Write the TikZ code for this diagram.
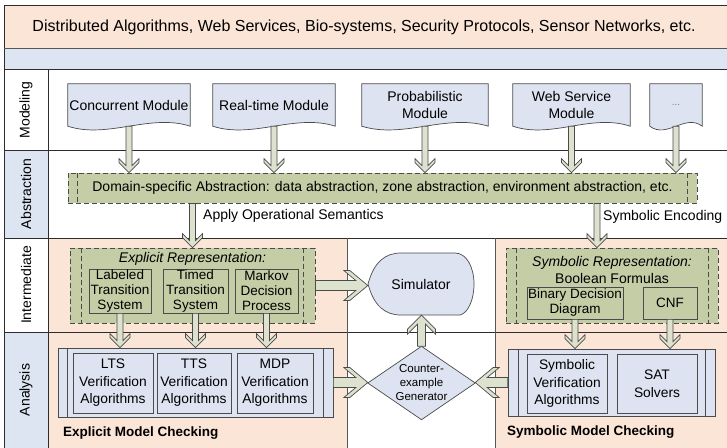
\documentclass[tikz,border=0pt]{standalone}
\usepackage{fontspec}
\setmainfont{Liberation Sans}
\usetikzlibrary{calc}
\pgfdeclarelayer{back}
\pgfdeclarelayer{bg}
\pgfsetlayers{back,bg,main}
\definecolor{peach}{RGB}{251,229,214}
\definecolor{lblue}{RGB}{220,229,241}
\definecolor{docblue}{RGB}{221,227,240}
\definecolor{olive}{RGB}{196,205,166}
\definecolor{arrfill}{RGB}{221,226,206}
\definecolor{edge}{RGB}{75,75,75}
\definecolor{lanec}{RGB}{45,45,45}
\tikzset{
  every node/.style={font=\fontsize{14}{16}\selectfont, inner sep=0pt},
  docbox/.style={minimum width=#1, minimum height=42pt, align=center, font=\fontsize{14}{17}\selectfont},
  docstyle/.style={draw=edge, fill=docblue, line width=0.7pt},
  dashbox/.style={draw=edge, fill=olive, dash pattern=on 5pt off 3pt, line width=0.8pt},
  dashline/.style={draw=edge, dash pattern=on 5pt off 3pt, line width=0.8pt},
  olivebox/.style={draw=edge, fill=olive, line width=0.7pt, align=center, font=\fontsize{13.5}{15}\selectfont},
  bluebox/.style={draw=edge, fill=docblue, line width=0.7pt, align=center, font=\fontsize{13.8}{17.5}\selectfont},
  container/.style={draw=edge, fill=docblue, line width=0.7pt},
  fatarrowstyle/.style={draw=edge, fill=arrfill, line width=0.7pt, line join=miter},
  lanelabel/.style={rotate=90, font=\fontsize{14}{16}\selectfont},
  laneline/.style={draw=lanec, line width=0.7pt},
  thinline/.style={draw=lanec!80, line width=0.5pt},
  itl/.style={font=\fontsize{14}{16}\selectfont\itshape},
  bld/.style={font=\fontsize{13.5}{16}\selectfont\bfseries},
}
% #1 start, #2 tip, #3 shaft half width, #4 head length, #5 head half width, #6 arm thickness
\newcommand\fatarrow[6]{%
  \coordinate (fa-a) at (#1);
  \coordinate (fa-b) at (#2);
  \coordinate (fa-h) at ($(fa-b)!#4pt!(fa-a)$);
  \coordinate (fa-ht) at ($(fa-b)!#4pt+#6pt!(fa-a)$);
  \coordinate (fa-i) at ($(fa-b)!#6pt+#4pt*#3/#5!(fa-a)$);
  \draw[fatarrowstyle] ($(fa-a)!#3pt!90:(fa-b)$) -- ($(fa-i)!#3pt!-90:(fa-a)$)
    -- ($(fa-ht)!#5pt!-90:(fa-a)$) -- ($(fa-h)!#5pt!-90:(fa-a)$) -- (fa-b)
    -- ($(fa-h)!#5pt!90:(fa-a)$) -- ($(fa-ht)!#5pt!90:(fa-a)$)
    -- ($(fa-i)!#3pt!90:(fa-a)$) -- ($(fa-a)!#3pt!-90:(fa-b)$) -- cycle;
}
\newcommand\docshape[2]{%
  \draw[docstyle] (#1.south west) -- (#1.north west) -- (#1.north east) -- (#1.south east)
    .. controls +(-#2,-13) and +(#2,13) .. (#1.south west) -- cycle;
}
\begin{document}
\begin{tikzpicture}[x=1pt,y=-1pt]
\useasboundingbox (0,0) rectangle (727,447);
\begin{pgfonlayer}{back}
  \fill[peach] (4,5) rectangle (730,48);
  \fill[lblue] (4,48) rectangle (730,69);
  \fill[lblue] (4,150) rectangle (48,238);
  \fill[lblue] (4,332) rectangle (48,450);
  \fill[peach] (48,238) rectangle (347,450);
  \fill[peach] (495,238) rectangle (730,450);
  \draw[laneline] (4,5) -- (730,5);
  \draw[laneline] (4,5) -- (4,450);
  \draw[thinline] (4,48) -- (730,48);
  \draw[laneline] (4,69) -- (730,69);
  \draw[laneline] (4,150) -- (730,150);
  \draw[laneline] (4,238) -- (730,238);
  \draw[laneline] (4,332) -- (730,332);
  \draw[laneline] (48,69) -- (48,450);
  \draw[thinline] (347,238) -- (347,450);
  \draw[thinline] (495,238) -- (495,450);
\end{pgfonlayer}

% banner
\node[font=\fontsize{16}{18}\selectfont] (title) at (364,27) {Distributed Algorithms, Web Services, Bio-systems, Security Protocols, Sensor Networks, etc.};

% lane labels
\node[lanelabel] (lmod) at (26,110) {Modeling};
\node[lanelabel] (labs) at (26,194) {Abstraction};
\node[lanelabel] (lint) at (26,285) {Intermediate};
\node[lanelabel] (lana) at (26,390) {Analysis};

% modeling documents
\node[docbox=122pt] (m1) at (129,105) {Concurrent Module};
\node[docbox=122pt] (m2) at (274,105) {Real-time Module};
\node[docbox=126pt] (m3) at (425,105) {Probabilistic\\Module};
\node[docbox=117pt] (m4) at (571.5,105) {Web Service\\Module};
\node[docbox=52pt, text=gray] (m5) at (676,105) {\fontsize{10}{12}\selectfont ...};
\begin{pgfonlayer}{bg}
  \docshape{m1}{40}
  \docshape{m2}{40}
  \docshape{m3}{42}
  \docshape{m4}{39}
  \docshape{m5}{17}
\end{pgfonlayer}

% abstraction
\node[dashbox, minimum width=629pt, minimum height=30pt] (abs) at (382.5,188)
  {Domain-specific Abstraction: data abstraction, zone abstraction, environment abstraction, etc.};
\draw[dashline] ([xshift=10pt]abs.north west) -- ([xshift=10pt]abs.south west);
\draw[dashline] ([xshift=-10pt]abs.north east) -- ([xshift=-10pt]abs.south east);

\foreach \m in {m1,m2,m3,m4,m5} {
  \fatarrow{\m.south}{\m.south |- abs.north}{3}{10}{10}{4}
}

\node[anchor=west] (aos) at (203,216) {Apply Operational Semantics};
\node[anchor=west] (senc) at (603,217) {Symbolic Encoding};

% explicit representation
\node[dashbox, minimum width=245pt, minimum height=75pt] (er) at (192.5,285.5) {};
\draw[dashline] ([xshift=12pt]er.north west) -- ([xshift=12pt]er.south west);
\draw[dashline] ([xshift=-12pt]er.north east) -- ([xshift=-12pt]er.south east);
\node[itl] (ert) at (192.5,259) {Explicit Representation:};
\node[olivebox, minimum width=62pt, minimum height=44pt] (lts) at (120,291) {Labeled\\Transition\\System};
\node[olivebox, minimum width=65pt, minimum height=44pt] (tts) at (195.5,291) {Timed\\Transition\\System};
\node[olivebox, minimum width=63pt, minimum height=44pt] (mdp) at (266.5,291) {Markov\\Decision\\Process};

% symbolic representation
\node[dashbox, minimum width=212pt, minimum height=75pt] (sr) at (612,285.5) {};
\draw[dashline] ([xshift=11pt]sr.north west) -- ([xshift=11pt]sr.south west);
\draw[dashline] ([xshift=-10pt]sr.north east) -- ([xshift=-10pt]sr.south east);
\node[itl] (srt) at (612,263) {Symbolic Representation:};
\node (srb) at (612,278) {Boolean Formulas};
\node[olivebox, minimum width=96pt, minimum height=32pt] (bdd) at (575,303) {Binary Decision\\Diagram};
\node[olivebox, minimum width=54pt, minimum height=32pt] (cnf) at (670,303) {CNF};

% abstraction -> representations
\coordinate (encx) at (597,0);
\fatarrow{abs.south -| er.north}{er.north}{3}{10}{10}{4}
\fatarrow{abs.south -| encx}{sr.north -| encx}{3}{10}{10}{4}

% explicit analysis
\node[container, minimum width=275pt, minimum height=69pt] (ea) at (195.5,382.5) {};
\draw[container] ([xshift=10pt]ea.north west) -- ([xshift=10pt]ea.south west);
\draw[container] ([xshift=-10pt]ea.north east) -- ([xshift=-10pt]ea.south east);
\node[bluebox, minimum width=80pt, minimum height=60pt] (lv) at (113,383) {LTS\\Verification\\Algorithms};
\node[bluebox, minimum width=74pt, minimum height=60pt] (tv) at (194,383) {TTS\\Verification\\Algorithms};
\node[bluebox, minimum width=76pt, minimum height=60pt] (mv) at (275,383) {MDP\\Verification\\Algorithms};
\node[bld, anchor=west] (emc) at (63,433) {Explicit Model Checking};

% symbolic analysis
\node[container, minimum width=207pt, minimum height=67pt] (sa) at (611.5,382.5) {};
\draw[container] ([xshift=11pt]sa.north west) -- ([xshift=11pt]sa.south west);
\draw[container] ([xshift=-10pt]sa.north east) -- ([xshift=-10pt]sa.south east);
\node[bluebox, minimum width=80pt, minimum height=59pt] (sva) at (567,383.5) {Symbolic\\Verification\\Algorithms};
\node[bluebox, minimum width=80pt, minimum height=59pt] (sat) at (657,383.5) {SAT\\Solvers};
\node[bld, anchor=west] (smc) at (507,432) {Symbolic Model Checking};

% representation -> analysis
\fatarrow{lts.south}{lts.south |- ea.north}{3}{10}{10}{4}
\fatarrow{tts.south}{tts.south |- ea.north}{3}{10}{10}{4}
\fatarrow{mdp.south}{mdp.south |- ea.north}{3}{10}{10}{4}
\fatarrow{bdd.south}{bdd.south |- sa.north}{3}{10}{10}{4}
\fatarrow{cnf.south}{cnf.south |- sa.north}{3}{10}{10}{4}

% simulator
\node[minimum width=106pt, minimum height=62pt] (sim) at (421,284) {Simulator};
\begin{pgfonlayer}{bg}
  \begin{scope}[shift={(sim.center)}]
    \draw[docstyle] (-53,0) .. controls (-47,-22) and (-36,-31) .. (-20,-31) -- (34,-31)
      .. controls (46,-31) and (53,-16) .. (53,0) .. controls (53,16) and (47,29) .. (39,31)
      -- (-20,31) .. controls (-36,31) and (-47,22) .. (-53,0) -- cycle;
  \end{scope}
\end{pgfonlayer}

% counterexample generator
\node[minimum width=107pt, minimum height=73pt, align=center, font=\fontsize{11.5}{14}\selectfont] (ce) at (421.5,383) {Counter-\\example\\Generator};
\begin{pgfonlayer}{bg}
  \draw[docstyle] (ce.west) -- (ce.north) -- (ce.east) -- (ce.south) -- cycle;
\end{pgfonlayer}

\fatarrow{er.east}{er.east -| sim.west}{5}{18}{15}{6}
\fatarrow{ea.east}{ea.east -| ce.west}{5}{18}{15}{6}
\fatarrow{sa.west}{sa.west -| ce.east}{5}{18}{15}{6}
\fatarrow{ce.north}{ce.north |- sim.south}{4}{14}{14}{5}
\end{tikzpicture}
\end{document}
